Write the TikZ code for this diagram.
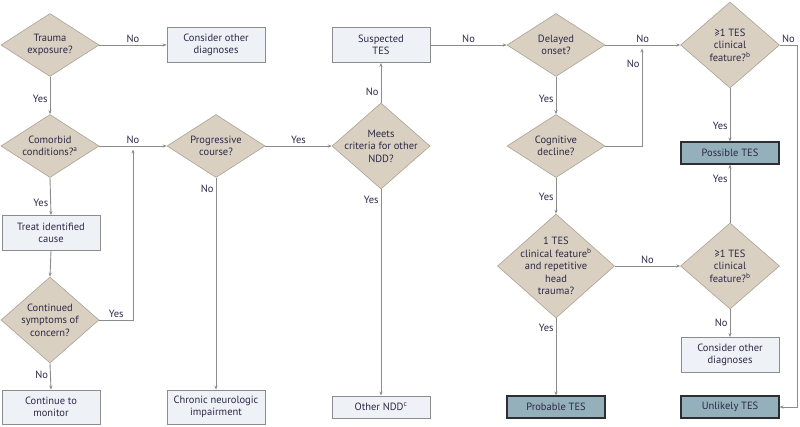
\documentclass[tikz,border=0pt]{standalone}
\usepackage{fontspec}
\setmainfont{PT Sans}
\usetikzlibrary{shapes.geometric, arrows.meta}
\definecolor{txtcol}{RGB}{45,40,72}
\definecolor{linecol}{RGB}{140,140,140}
\definecolor{decfill}{RGB}{217,208,193}
\definecolor{decline}{RGB}{170,162,148}
\definecolor{boxfill}{RGB}{238,242,246}
\definecolor{boxline}{RGB}{140,140,140}
\definecolor{resfill}{RGB}{147,176,187}
\definecolor{resline}{RGB}{45,45,50}

\begin{document}
\begin{tikzpicture}[x=1pt, y=-1pt, >={Stealth[length=4pt,width=3.2pt]},
  every node/.style={text=txtcol, font=\fontsize{10.5}{12.5}\selectfont, align=center},
  decision/.style={diamond, draw=decline, fill=decfill, line width=0.6pt, inner sep=-9pt,
    minimum width=98pt, minimum height=63pt},
  infobox/.style={rectangle, draw=boxline, fill=boxfill, line width=0.9pt, inner sep=0pt,
    minimum width=98pt, minimum height=35pt},
  result/.style={rectangle, draw=resline, fill=resfill, line width=1.1pt, inner sep=0pt,
    minimum width=98pt, minimum height=22pt},
  conn/.style={->, draw=linecol, line width=0.9pt},
  lbl/.style={inner sep=2pt}]
  \useasboundingbox (0,0) rectangle (800,426);
  % left column
  \node[decision] (trauma) at (50,45) {Trauma\\exposure?};
  \node[infobox] (other1) at (216,45) {Consider other\\diagnoses};
  \node[decision] (comorb) at (50,146) {Comorbid\\conditions?\textsuperscript{a}};
  \node[infobox] (treat) at (51,233) {Treat identified\\cause};
  \node[decision, minimum height=86pt] (contin) at (50,320) {Continued\\symptoms of\\concern?};
  \node[infobox, minimum height=34pt] (monitor) at (51,407) {Continue to\\monitor};
  % middle columns
  \node[decision] (progr) at (216,146) {Progressive\\course?};
  \node[infobox, minimum height=34pt] (chronic) at (216,407) {Chronic neurologic\\impairment};
  \node[decision, minimum height=86pt] (meets) at (381,146) {Meets\\criteria for other\\NDD?};
  \node[infobox] (suspect) at (381,45) {Suspected\\TES};
  \node[infobox, minimum height=22pt] (othndd) at (381,407) {Other NDD\textsuperscript{c}};
  % right columns
  \node[decision] (delay) at (556,45) {Delayed\\onset?};
  \node[decision] (cognit) at (556,146) {Cognitive\\decline?};
  \node[decision, minimum width=117pt, minimum height=104pt] (repet) at (556,266)
    {1 TES\\clinical feature\textsuperscript{b}\\and repetitive\\head\\trauma?};
  \node[result] (probable) at (556,407) {Probable TES};
  \node[decision, minimum width=99pt, minimum height=86pt] (feat1) at (730,45)
    {≥1 TES\\clinical\\feature?\textsuperscript{b}};
  \node[result] (possible) at (730,153) {Possible TES};
  \node[decision, minimum width=99pt, minimum height=86pt] (feat2) at (730,266)
    {≥1 TES\\clinical\\feature?\textsuperscript{b}};
  \node[infobox] (other2) at (730,355) {Consider other\\diagnoses};
  \node[result] (unlikely) at (730,407) {Unlikely TES};
  \coordinate (jleft) at (133,149.5);
  \coordinate (jright) at (642,48.5);
  \coordinate (edge) at (797,45);
  % connectors
  \draw[conn] (trauma.east) -- node[lbl, above] {No} (other1.west);
  \draw[conn] (trauma.south) -- node[lbl, left, pos=0.59] {Yes} (comorb.north);
  \draw[conn] (comorb.east) -- node[lbl, above] {No} (progr.west);
  \draw[conn] (comorb.south) -- node[lbl, left, pos=0.66] {Yes} (treat.north);
  \draw[conn] (treat.south) -- (contin.north);
  \draw[conn] (contin.south) -- node[lbl, left, pos=0.44] {No} (monitor.north);
  \draw[conn] (contin.east) -| node[lbl, above, pos=0.25] {Yes} (jleft);
  \draw[conn] (progr.south) -- node[lbl, left, pos=0.05] {No} (chronic.north);
  \draw[conn] (progr.east) -- node[lbl, above] {Yes} (meets.west);
  \draw[conn] (meets.north) -- node[lbl, left, pos=0.28] {No} (suspect.south);
  \draw[conn] (meets.south) -- node[lbl, left, pos=0.05] {Yes} (othndd.north);
  \draw[conn] (suspect.east) -- node[lbl, above] {No} (delay.west);
  \draw[conn] (delay.east) -- node[lbl, above] {No} (feat1.west);
  \draw[conn] (delay.south) -- node[lbl, left, pos=0.59] {Yes} (cognit.north);
  \draw[conn] (cognit.east) -| node[lbl, left, pos=0.92] {No} (jright);
  \draw[conn] (cognit.south) -- node[lbl, left, pos=0.54] {Yes} (repet.north);
  \draw[conn] (repet.east) -- node[lbl, above] {No} (feat2.west);
  \draw[conn] (repet.south) -- node[lbl, left, pos=0.13] {Yes} (probable.north);
  \draw[conn] (feat1.south) -- node[lbl, left, pos=0.7] {Yes} (possible.north);
  \draw[conn] (feat2.north) -- node[lbl, left, pos=0.76] {Yes} (possible.south);
  \draw[conn] (feat2.south) -- node[lbl, left, pos=0.5] {No} (other2.north);
  \draw[conn] (feat1.east) -- node[lbl, above] {No} (edge) |- (unlikely.east);
\end{tikzpicture}
\end{document}
